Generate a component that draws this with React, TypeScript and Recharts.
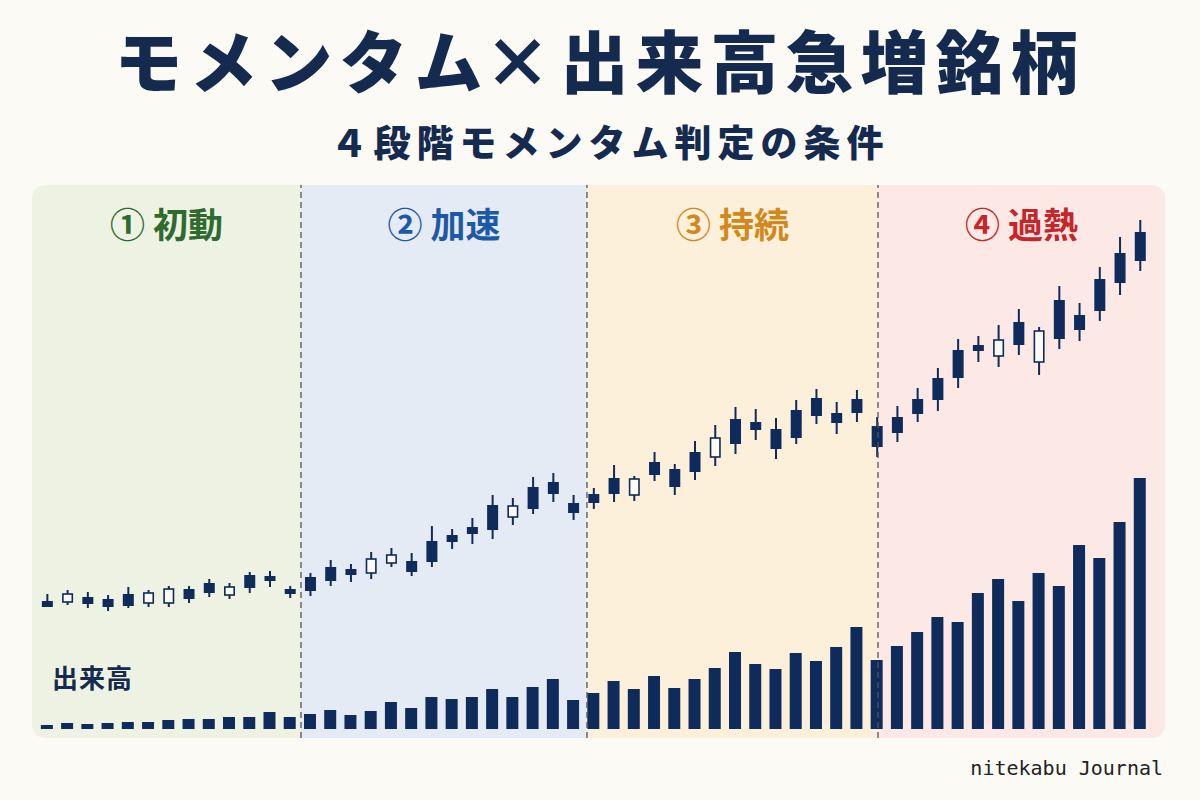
import { Bar, ComposedChart, ReferenceArea, ReferenceLine, XAxis, YAxis } from "recharts";

const NAVY = "#0f2b5b";
const HOLLOW = "#fbfaf5";

// 55 sessions, four momentum phases
const OPEN = [
  133, 146, 136, 133, 134, 147, 151, 141, 147, 153, 152, 159, 146,
  149, 159, 165, 181, 185, 168, 178, 198, 206, 210, 234, 231, 246, 227, 237,
  246, 261, 265, 253, 268, 302, 296, 310, 291, 302, 324, 317, 327, 293,
  307, 326, 340, 362, 389, 400, 395, 409, 401, 410, 429, 457, 479,
];
const CLOSE = [
  139, 138, 143, 141, 146, 137, 137, 151, 157, 145, 165, 164, 151,
  163, 173, 171, 167, 177, 179, 199, 205, 213, 235, 223, 253, 258, 237, 246,
  262, 245, 278, 271, 288, 283, 321, 318, 311, 330, 342, 327, 341, 314,
  323, 341, 362, 390, 395, 384, 418, 378, 440, 425, 461, 487, 508,
];
const HIGH = [
  146, 150, 148, 145, 153, 150, 154, 154, 161, 157, 168, 169, 154,
  167, 180, 176, 188, 192, 187, 214, 211, 222, 245, 242, 263, 267, 245, 252,
  275, 264, 288, 276, 299, 315, 333, 331, 322, 340, 351, 338, 350, 323,
  334, 352, 372, 401, 404, 415, 431, 413, 454, 437, 473, 503, 520,
];
const LOW = [
  133, 135, 132, 129, 132, 133, 133, 137, 143, 141, 147, 153, 142,
  144, 154, 158, 161, 173, 164, 173, 191, 196, 201, 215, 226, 238, 220, 231,
  238, 239, 259, 245, 260, 274, 286, 300, 281, 296, 316, 306, 318, 283,
  298, 318, 329, 352, 378, 373, 385, 365, 391, 399, 419, 445, 469,
];
const VOLUME = [
  4, 6, 5, 6, 7, 7, 9, 10, 10, 12, 12, 17, 12,
  15, 19, 14, 18, 27, 21, 32, 30, 32, 40, 32, 42, 50, 29, 36,
  48, 40, 53, 41, 50, 61, 77, 65, 60, 76, 68, 82, 102, 69,
  83, 97, 112, 107, 136, 150, 128, 156, 143, 184, 171, 207, 251,
];

const PHASE_LABELS = ["① 初動", "② 加速", "③ 持続", "④ 過熱"];
const PHASE_COLORS = ["#2f6a2e", "#1d5aa6", "#d2891c", "#c4262b"];
const PHASE_FILLS = ["#eef2e3", "#e5ebf4", "#fdf0db", "#fce8e4"];
const PHASE_BOUNDS = [-0.74, 12.55, 26.68, 41.06, 55.24];

const data = OPEN.map((open, i) => ({
  i,
  open,
  close: CLOSE[i],
  high: HIGH[i],
  low: LOW[i],
  volume: VOLUME[i],
}));

const Candle = (props: any) => {
  const { x, y, width, height, payload } = props;
  const { open, close, high, low } = payload;
  const top = Math.min(y, y + height);
  const h = Math.abs(height);
  const k = h / (high - low || 1);
  const bodyTop = top + (high - Math.max(open, close)) * k;
  const bodyBot = top + (high - Math.min(open, close)) * k;
  const cx = x + width / 2;
  const up = close >= open;
  return (
    <g>
      <line x1={cx} x2={cx} y1={top} y2={top + h} stroke={NAVY} strokeWidth={2} />
      {up ? (
        <rect x={x} y={bodyTop} width={width} height={Math.max(bodyBot - bodyTop, 2)} fill={NAVY} />
      ) : (
        <rect
          x={x + 0.8}
          y={bodyTop}
          width={width - 1.6}
          height={Math.max(bodyBot - bodyTop, 2)}
          fill={HOLLOW}
          stroke={NAVY}
          strokeWidth={1.6}
        />
      )}
    </g>
  );
};

export default function App() {
  return (
    <div
      style={{
        position: "absolute",
        left: 0,
        top: 0,
        width: 1200,
        height: 800,
        background: "#fcfaf5",
        fontFamily: "'Noto Sans CJK JP', 'Noto Sans', sans-serif",
        color: "#142a4f",
        overflow: "hidden",
      }}
    >
      <div
        style={{
          position: "absolute",
          top: 17,
          width: 1200,
          textAlign: "center",
          fontSize: 68,
          fontWeight: 900,
          letterSpacing: 7,
          lineHeight: "84px",
        }}
      >
        モメンタム<span style={{ marginLeft: -6, marginRight: 2 }}>×</span>出来高急増銘柄
      </div>
      <div
        style={{
          position: "absolute",
          top: 116,
          left: 10,
          width: 1200,
          textAlign: "center",
          fontSize: 37,
          fontWeight: 900,
          letterSpacing: 6,
          lineHeight: "50px",
        }}
      >
        ４段階モメンタム判定の条件
      </div>

      <div
        style={{
          position: "absolute",
          left: 32,
          top: 185,
          width: 1133,
          height: 553,
          borderRadius: 13,
          overflow: "hidden",
        }}
      >
        <ComposedChart width={1133} height={553} data={data} margin={{ top: 0, right: 0, bottom: 0, left: 0 }}>
          <XAxis xAxisId="c" dataKey="i" type="number" domain={[PHASE_BOUNDS[0], PHASE_BOUNDS[4]]} allowDataOverflow hide />
          <XAxis xAxisId="v" dataKey="i" type="number" domain={[PHASE_BOUNDS[0], PHASE_BOUNDS[4]]} allowDataOverflow hide />
          <YAxis yAxisId="p" domain={[2, 555]} allowDataOverflow hide />
          <YAxis yAxisId="v" domain={[-9, 544]} allowDataOverflow hide />

          {PHASE_LABELS.map((label, k) => (
            <ReferenceArea
              key={label}
              xAxisId="c"
              yAxisId="p"
              x1={PHASE_BOUNDS[k]}
              x2={PHASE_BOUNDS[k + 1]}
              fill={PHASE_FILLS[k]}
              fillOpacity={1}
              stroke="none"
              ifOverflow="visible"
              label={{
                value: label,
                position: "insideTop",
                offset: 28,
                fill: PHASE_COLORS[k],
                fontSize: 35,
                fontWeight: 700,
              }}
            />
          ))}

          <Bar
            xAxisId="v"
            yAxisId="v"
            dataKey="volume"
            fill={NAVY}
            barSize={12}
            isAnimationActive={false}
          />
          <Bar
            xAxisId="c"
            yAxisId="p"
            dataKey={(d: any) => [d.low, d.high]}
            barSize={11}
            shape={Candle}
            isAnimationActive={false}
          />

          {PHASE_BOUNDS.slice(1, 4).map((b) => (
            <ReferenceLine
              key={b}
              xAxisId="c"
              yAxisId="p"
              x={b}
              stroke="#555"
              strokeWidth={1.3}
              strokeDasharray="6 4"
            />
          ))}
        </ComposedChart>
      </div>

      <div
        style={{
          position: "absolute",
          left: 52,
          top: 660,
          fontSize: 26,
          fontWeight: 700,
          letterSpacing: 1,
          lineHeight: "34px",
        }}
      >
        出来高
      </div>

      <div
        style={{
          position: "absolute",
          right: 37,
          top: 754,
          fontFamily: "'DejaVu Sans Mono', monospace",
          fontSize: 20,
          color: "#222",
          lineHeight: "28px",
        }}
      >
        nitekabu Journal
      </div>
    </div>
  );
}
